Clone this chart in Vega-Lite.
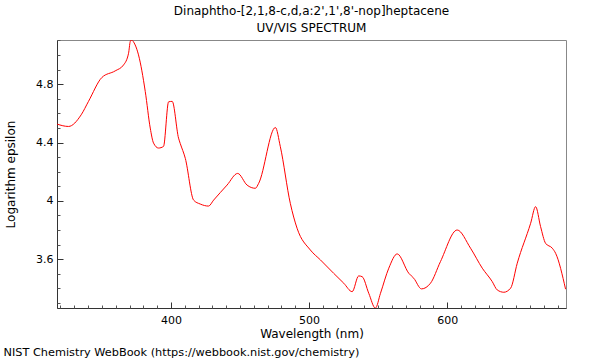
{
  "$schema": "https://vega.github.io/schema/vega-lite/v6.json",
  "width": 509,
  "height": 268,
  "autosize": {"type": "none"},
  "padding": {"left": 57, "top": 40, "right": 34, "bottom": 52},
  "background": "white",
  "config": {"view": {"stroke": "#888", "strokeWidth": 1}, "font": "DejaVu Sans"},
  "title": {
    "text": ["Dinaphtho-[2,1,8-c,d,a:2',1',8'-nop]heptacene", "UV/VIS SPECTRUM"],
    "fontSize": 12, "fontWeight": "normal", "font": "DejaVu Sans", "color": "black",
    "anchor": "middle", "offset": 5, "lineHeight": 17
  },
  "data": {"values": [
    {"wl": 317.6, "le": 4.526}, {"wl": 325.8, "le": 4.51}, {"wl": 335, "le": 4.59}, {"wl": 340.3, "le": 4.682},
    {"wl": 350, "le": 4.846}, {"wl": 359.6, "le": 4.891}, {"wl": 365.7, "le": 4.932}, {"wl": 369.3, "le": 5.012},
    {"wl": 370.5, "le": 5.092}, {"wl": 371.2, "le": 5.103}, {"wl": 374.1, "le": 5.069}, {"wl": 376.5, "le": 5.001},
    {"wl": 381.4, "le": 4.75}, {"wl": 385, "le": 4.499}, {"wl": 387.4, "le": 4.396}, {"wl": 391, "le": 4.362},
    {"wl": 394.6, "le": 4.373}, {"wl": 398.3, "le": 4.679}, {"wl": 400.9, "le": 4.682}, {"wl": 405.5, "le": 4.43},
    {"wl": 406.7, "le": 4.394}, {"wl": 410.4, "le": 4.291}, {"wl": 416.4, "le": 4.005}, {"wl": 421.2, "le": 3.978},
    {"wl": 427.2, "le": 3.964}, {"wl": 430.9, "le": 4.005}, {"wl": 440.6, "le": 4.108}, {"wl": 448.3, "le": 4.188},
    {"wl": 455.1, "le": 4.108}, {"wl": 461.1, "le": 4.086}, {"wl": 463.5, "le": 4.12}, {"wl": 475.6, "le": 4.503},
    {"wl": 479.2, "le": 4.371}, {"wl": 486.4, "le": 3.983}, {"wl": 491.3, "le": 3.812}, {"wl": 500.9, "le": 3.663},
    {"wl": 508.2, "le": 3.595}, {"wl": 517.8, "le": 3.503}, {"wl": 525.1, "le": 3.435}, {"wl": 531.2, "le": 3.377},
    {"wl": 535.9, "le": 3.485}, {"wl": 538.4, "le": 3.48}, {"wl": 543.2, "le": 3.366}, {"wl": 548, "le": 3.264},
    {"wl": 551.7, "le": 3.366}, {"wl": 557.7, "le": 3.538}, {"wl": 563.8, "le": 3.636}, {"wl": 572.2, "le": 3.503},
    {"wl": 575.8, "le": 3.469}, {"wl": 581.4, "le": 3.396}, {"wl": 587.9, "le": 3.435}, {"wl": 595.1, "le": 3.583},
    {"wl": 607.2, "le": 3.8}, {"wl": 616.9, "le": 3.675}, {"wl": 625.4, "le": 3.538}, {"wl": 632.6, "le": 3.446},
    {"wl": 636.2, "le": 3.389}, {"wl": 641, "le": 3.373}, {"wl": 645.9, "le": 3.401}, {"wl": 650.7, "le": 3.572},
    {"wl": 660.4, "le": 3.846}, {"wl": 664, "le": 3.96}, {"wl": 667.6, "le": 3.823}, {"wl": 671.2, "le": 3.709},
    {"wl": 676.1, "le": 3.675}, {"wl": 678.5, "le": 3.64}, {"wl": 685.7, "le": 3.394}
  ]},
  "layer": [
    {
      "mark": {"type": "line", "color": "#ff0000", "strokeWidth": 1, "interpolate": "monotone", "clip": true},
      "encoding": {
        "x": {"field": "wl", "type": "quantitative",
          "scale": {"domain": [317.5, 686], "nice": false, "zero": false},
          "axis": {"orient": "bottom", "values": [400, 500, 600], "tickSize": -6, "tickColor": "#333", "domainColor": "#333",
            "grid": false, "labelFontSize": 11, "labelColor": "black", "labelFlush": false, "labelPadding": 12,
            "title": "Wavelength (nm)", "titleFontSize": 12, "titleFontWeight": "normal", "titleColor": "black", "titlePadding": 3}},
        "y": {"field": "le", "type": "quantitative",
          "scale": {"domain": [3.265, 5.103], "nice": false, "zero": false},
          "axis": {"orient": "left", "values": [3.6, 4, 4.4, 4.8], "format": ".2~f", "tickSize": -6, "tickColor": "#333", "domainColor": "#333",
            "grid": false, "labelFontSize": 11, "labelColor": "black", "labelFlush": false, "labelPadding": 10,
            "title": "Logarithm epsilon", "titleFontSize": 12, "titleFontWeight": "normal", "titleColor": "black", "titlePadding": 18}}
      }
    },
    {
      "mark": {"type": "line", "opacity": 0},
      "encoding": {
        "x": {"field": "wl", "type": "quantitative",
          "axis": {"orient": "bottom", "values": [320, 330, 340, 350, 360, 370, 380, 390, 410, 420, 430, 440, 450, 460, 470, 480, 490, 510, 520, 530, 540, 550, 560, 570, 580, 590, 610, 620, 630, 640, 650, 660, 670, 680],
            "tickSize": -3, "tickColor": "#555", "labels": false, "domain": false, "grid": false,
            "title": "NIST Chemistry WebBook (https://webbook.nist.gov/chemistry)", "titleFontSize": 11.3, "titleFontWeight": "normal",
            "titleColor": "black", "titleAnchor": "start", "titleAlign": "left", "titleBaseline": "middle", "titleX": -54, "titleY": 44}},
        "y": {"field": "le", "type": "quantitative",
          "axis": {"orient": "left", "values": [3.3, 3.4, 3.5, 3.7, 3.8, 3.9, 4.1, 4.2, 4.3, 4.5, 4.6, 4.7, 4.9, 5.0, 5.1],
            "tickSize": -3, "tickColor": "#555", "labels": false, "domain": false, "grid": false, "title": null}}
      }
    }
  ],
  "resolve": {"axis": {"x": "independent", "y": "independent"}}
}
